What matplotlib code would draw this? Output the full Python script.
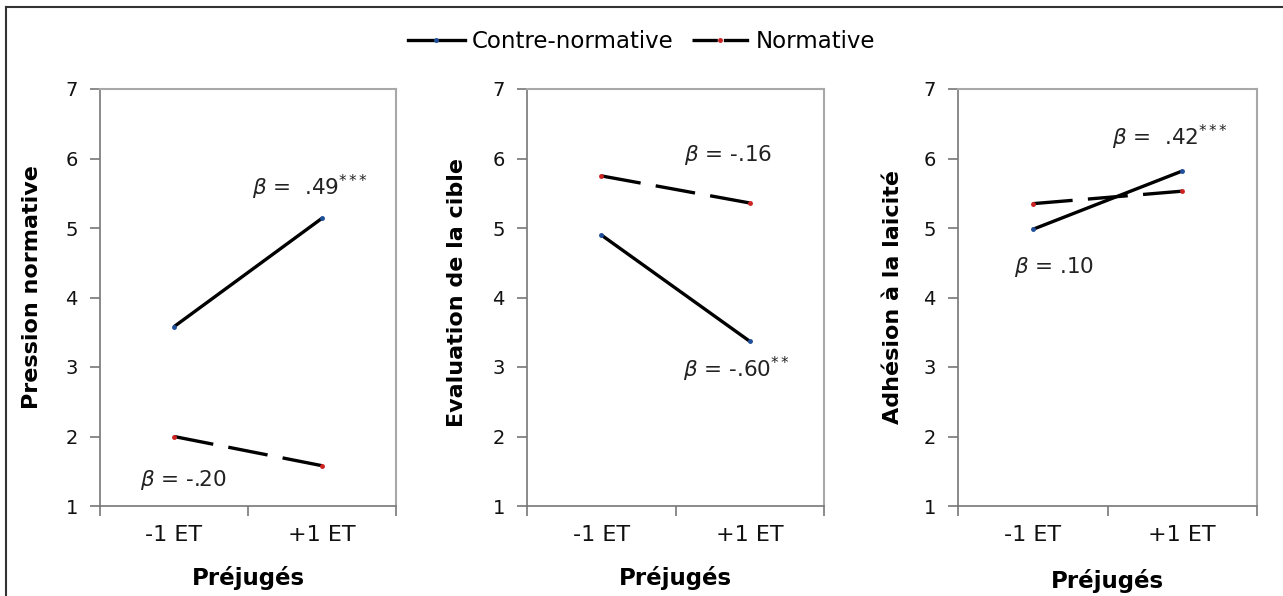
import matplotlib
matplotlib.use("Agg")
import matplotlib.pyplot as plt
from matplotlib.lines import Line2D

# ---- data ----
categories = ["-1 ET", "+1 ET"]
series_names = ["Contre-normative", "Normative"]
ylabels = ["Pression normative", "Evaluation de la cible", "Adhésion à la laicité"]
xlabel = "Préjugés"
contre = [[3.58, 5.14], [4.90, 3.37], [4.98, 5.82]]
normative = [[2.00, 1.58], [5.75, 5.36], [5.35, 5.53]]
# annotations: (text, x, y) in data coords
annotations = [
    [(r"$\beta$ =  .49$^{{*}\,{*}\,{*}}$", 1.03, 5.59), (r"$\beta$ = -.20", 0.27, 1.37)],
    [(r"$\beta$ = -.16", 1.06, 6.05), (r"$\beta$ = -.60$^{{*}\,{*}}$", 1.05, 2.96)],
    [(r"$\beta$ =  .42$^{{*}\,{*}\,{*}}$", 1.03, 6.31), (r"$\beta$ = .10", 0.375, 4.44)],
]
yticks = [1, 2, 3, 4, 5, 6, 7]

plt.rcParams['font.family'] = ['DejaVu Sans']
plt.rcParams['mathtext.fontset'] = 'dejavusans'

W, H = 1283, 596
fig = plt.figure(figsize=(W / 100, H / 100), dpi=100)

lefts = [100, 527, 958]
widths = [296, 297, 299]
ylab_x = [-0.196, -0.202, -0.184]
ylab_y = [0.525, 0.511, 0.50]
xlab_y = [-0.144, -0.144, -0.151]
bottom_px, top_px = 506, 89

blue_pt, red_pt = '#1f4e9a', '#cc2222'

xpos = [0.5, 1.5]
for i in range(3):
    ax = fig.add_axes([lefts[i] / W, (H - bottom_px) / H, widths[i] / W, (bottom_px - top_px) / H])
    ax.plot(xpos, contre[i], color='black', lw=2.4, solid_capstyle='butt',
            marker='o', ms=2.5, mfc=blue_pt, mec=blue_pt, label=series_names[0])
    ax.plot(xpos, normative[i], color='black', lw=2.4, dashes=(12.0, 4.6), dash_capstyle='butt',
            marker='o', ms=2.5, mfc=red_pt, mec=red_pt, label=series_names[1])
    ax.set_xlim(0, 2)
    ax.set_ylim(1, 7)
    ax.set_yticks(yticks)
    ax.set_xticks([0, 1, 2])
    ax.set_xticklabels([])
    ax.set_xticks(xpos, minor=True)
    ax.set_xticklabels(categories, minor=True)
    ax.tick_params(axis='x', which='minor', length=0, pad=14, labelsize=16, labelcolor='#111111')
    ax.tick_params(axis='x', which='major', length=7, direction='out', color='#777777', width=1.2)
    ax.tick_params(axis='y', length=7, direction='out', color='#777777', width=1.2,
                   labelsize=14, pad=9, labelcolor='#111111')
    for s in ['left', 'bottom']:
        ax.spines[s].set_color('#777777')
        ax.spines[s].set_linewidth(1.2)
    for s in ['top', 'right']:
        ax.spines[s].set_color('#a8a8a8')
        ax.spines[s].set_linewidth(1.5)
    ax.set_ylabel(ylabels[i], fontsize=16, fontweight='bold')
    ax.yaxis.set_label_coords(ylab_x[i], ylab_y[i])
    ax.set_xlabel(xlabel, fontsize=16.5, fontweight='bold')
    ax.xaxis.set_label_coords(0.5, xlab_y[i])
    for txt, tx, ty in annotations[i]:
        ax.text(tx, ty, txt, fontsize=15.5, ha='left', va='center', color='#222222')

handles = [
    Line2D([], [], color='black', lw=2.4, marker='o', ms=2.5, mfc=blue_pt, mec=blue_pt),
    Line2D([], [], color='black', lw=2.4, dashes=(7.6, 1.8), dash_capstyle='butt',
           marker='o', ms=2.5, mfc=red_pt, mec=red_pt),
]
fig.legend(handles, series_names, loc='center', bbox_to_anchor=(0.5, 1 - 42 / H), ncol=2,
           frameon=False, fontsize=16.5, handlelength=2.5, columnspacing=0.8,
           handletextpad=0.3, numpoints=1)

# outer frame lines
fig.add_artist(Line2D([6 / W, 6 / W], [0, 1 - 7 / H], color='#333333', lw=1.5, transform=fig.transFigure))
fig.add_artist(Line2D([6 / W, 1], [1 - 7 / H, 1 - 7 / H], color='#333333', lw=1.5, transform=fig.transFigure))

fig.savefig("out.png", dpi=100)
